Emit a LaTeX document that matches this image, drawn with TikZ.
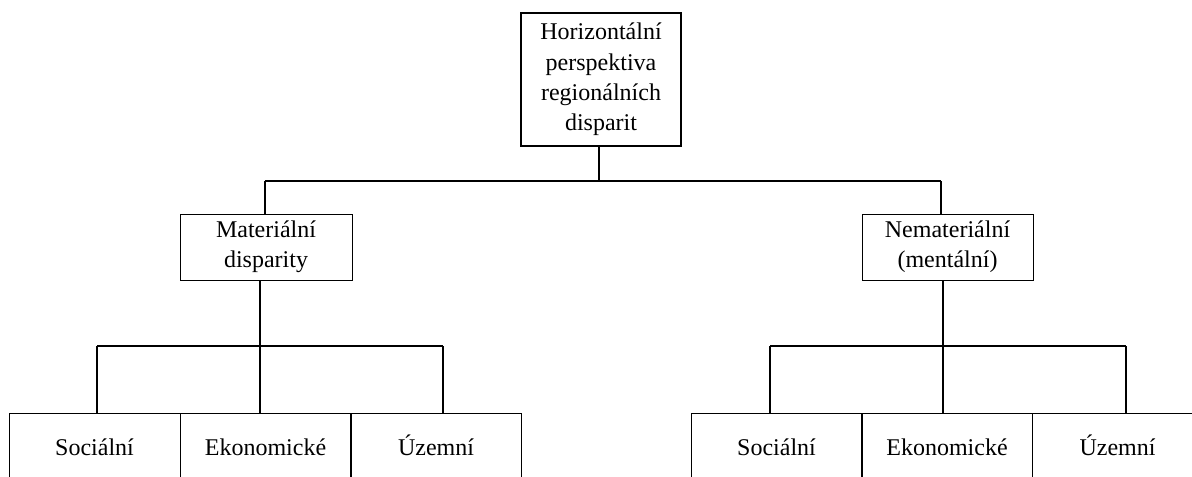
\documentclass[tikz,border=0pt]{standalone}
\usepackage{fontspec}
\setmainfont{Liberation Serif}
\begin{document}
\begin{tikzpicture}[x=0.5pt,y=-0.5pt,
  box/.style={draw, line width=0.5pt, inner sep=0pt, align=center, font=\fontsize{12}{15.2}\selectfont},
  topbox/.style={box, line width=1pt},
  cell/.style={draw, line width=0.5pt, inner sep=0pt, minimum width=85.5pt, minimum height=34pt, text height=8pt, text depth=0pt, font=\fontsize{12}{15}\selectfont},
  vline/.style={line width=0.9pt},
  hline/.style={line width=0.6pt}]
\useasboundingbox (0,0) rectangle (1192,476);
% boxes
\node[topbox, minimum width=80pt, minimum height=66.5pt] (top) at (601,79.5)
  {Horizontální\\perspektiva\\regionálních\\disparit};
\node[box, minimum width=86pt, minimum height=33pt] (mat) at (266,247)
  {Materiální\\disparity};
\node[box, minimum width=85.5pt, minimum height=33pt] (nem) at (947.5,247)
  {Nemateriální\\(mentální)};
% bottom cells
\node[cell] (s1) at (94.5,447) {Sociální};
\node[cell] (e1) at (265.5,447) {Ekonomické};
\node[cell] (u1) at (436,447) {Územní};
\node[cell] (s2) at (776.5,447) {Sociální};
\node[cell] (e2) at (947,447) {Ekonomické};
\node[cell] (u2) at (1117.5,447) {Územní};
% junction points
\coordinate (j0) at (599,181);
\coordinate (jL) at (265,181);
\coordinate (jR) at (941,181);
\coordinate (mL) at (260,346);
\coordinate (aL) at (97,346);
\coordinate (bL) at (443,346);
\coordinate (mR) at (943,346);
\coordinate (aR) at (770,346);
\coordinate (bR) at (1126,346);
% connectors
\draw[vline] (top.south -| j0) -- (j0);
\draw[hline] (jL) -- (jR);
\draw[vline] (jL) -- (mat.north -| jL);
\draw[vline] (jR) -- (nem.north -| jR);
\draw[vline] (mat.south -| mL) -- (e1.north -| mL);
\draw[hline] (aL) -- (bL);
\draw[vline] (aL) -- (s1.north -| aL);
\draw[vline] (bL) -- (u1.north -| bL);
\draw[vline] (nem.south -| mR) -- (e2.north -| mR);
\draw[hline] (aR) -- (bR);
\draw[vline] (aR) -- (s2.north -| aR);
\draw[vline] (bR) -- (u2.north -| bR);
\end{tikzpicture}
\end{document}
